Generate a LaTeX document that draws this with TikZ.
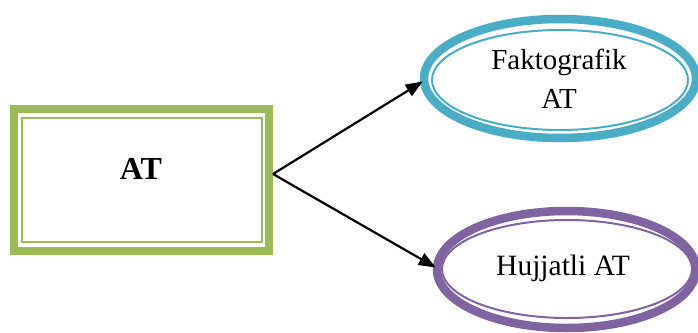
\documentclass[tikz,border=0pt]{standalone}
\usepackage{fontspec}
\setmainfont{Liberation Serif}
\usetikzlibrary{shapes.geometric,arrows.meta}
\definecolor{boxgreen}{HTML}{9BBB59}
\definecolor{ellblue}{HTML}{4BACC6}
\definecolor{ellpurple}{HTML}{8064A2}
\tikzset{
  outerbox/.style={draw=boxgreen,line width=8pt,minimum width=255pt,minimum height=142pt,inner sep=0pt},
  innerbox/.style={draw=boxgreen,line width=2pt,minimum width=240pt,minimum height=124pt,inner sep=0pt},
  outerell/.style={ellipse,line width=8.5pt,inner sep=0pt},
  innerell/.style={ellipse,line width=2pt,inner sep=0pt},
  conn/.style={line width=2.2pt,-{Triangle[length=17pt,width=13pt]}}
}
\begin{document}
\begin{tikzpicture}[x=1pt,y=-1pt]
\useasboundingbox[fill=white] (0,0) rectangle (698,332);
% box
\node[outerbox] (box) at (141.5,180) {};
\node[innerbox] (boxin) at (142,180) {};
\node[font=\fontsize{32}{36}\selectfont\bfseries] (boxlabel) at (141,169) {AT};
% ellipse 1
\node[outerell,draw=ellblue,minimum width=272pt,minimum height=119pt] (fak) at (560,78.5) {};
\node[innerell,draw=ellblue,minimum width=256pt,minimum height=100pt] (fakin) at (560,80) {};
\node[align=center,font=\fontsize{29}{39}\selectfont] (faklabel) at (559,79) {Faktografik\\AT};
% ellipse 2
\node[outerell,draw=ellpurple,minimum width=259pt,minimum height=117pt] (huj) at (566.5,269.5) {};
\node[innerell,draw=ellpurple,minimum width=250pt,minimum height=98pt] (hujin) at (567,269) {};
\node[font=\fontsize{29.5}{36}\selectfont] (hujlabel) at (563,268.5) {Hujjatli AT};
% connectors
\coordinate (start) at ([yshift=6pt]box.east);
\draw[conn] (start) -- ([xshift=3pt,yshift=-3pt]fak.west);
\draw[conn] (start) -- ([yshift=2pt,xshift=3pt]huj.west);
\end{tikzpicture}
\end{document}
